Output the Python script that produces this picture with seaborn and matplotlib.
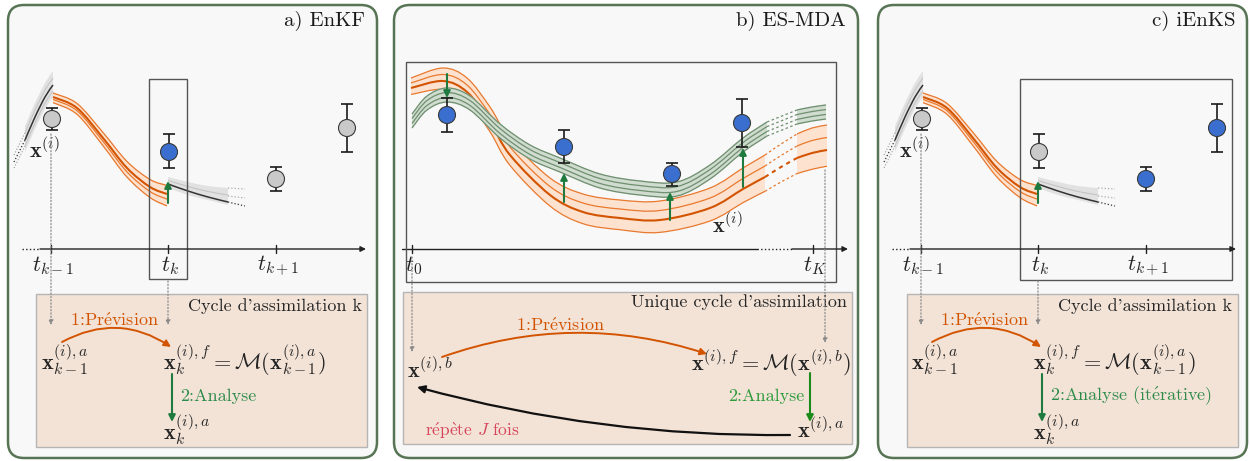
import numpy as np
import pandas as pd
import matplotlib
matplotlib.use("Agg")
import matplotlib.pyplot as plt
import seaborn as sns
from matplotlib.path import Path
from matplotlib.patches import PathPatch, FancyBboxPatch, Rectangle

# ---- data (pixel-like diagram coordinates, y grows downward) ----
# panels a) and c) share the same sketch, c) is shifted to the right
shift_c = 870
ticks_seq = [51, 168, 276]
tick_labels_seq = [r"$t_{k-1}$", r"$t_k$", r"$t_{k+1}$"]
obs_x_seq = [52, 169, 276, 347]
obs_y_seq = [119, 152, 179, 128]
obs_lo_seq = [108, 134, 167, 104]
obs_hi_seq = [130, 168, 191, 152]
state_a = ["autre", "assimilee", "autre", "autre"]
state_c = ["autre", "autre", "assimilee", "assimilee"]

# ensemble before t_{k-1} (grey)
pre_x = [25, 35, 45, 53]
pre_mean = [140, 117, 97, 85]
# forecast t_{k-1} -> t_k (orange)
fc_x = [53, 77, 103, 127, 150, 167]
fc_mean = [97, 108, 138, 168, 187, 194]
fc_spread = [4, 4.5, 5.5, 6.5, 7.5, 8.5]
# ensemble after t_k (grey)
post_x = [168, 188, 208, 228]
post_mean = [184, 191, 197, 202]
post_top = [7, 9, 11, 14]
post_bot = [4, 4, 3, 3]

# panel b) ES-MDA
ticks_b = [412, 813]
tick_labels_b = [r"$t_0$", r"$t_K$"]
obs_x_b = [447, 564, 672, 742]
obs_y_b = [115, 147, 174, 123]
obs_lo_b = [98, 130, 163, 99]
obs_hi_b = [132, 163, 186, 147]
prior_x = [411, 443, 467, 490, 510, 550, 583, 620, 660, 710, 743, 765]
prior_mean = [88, 81, 92, 122, 155, 195, 212, 218, 220, 208, 189, 177]
prior_spread = [10, 13, 14, 15, 16, 17, 18, 18, 19, 20, 21, 22]
prior_gap_x = [765, 781, 797]
prior_gap_mean = [177, 167, 158]
prior_gap_spread = [22, 23, 24]
prior_tail_x = [797, 812, 827]
prior_tail_mean = [158, 153, 150]
prior_tail_spread = [24, 25, 25]
post_b_x = [412, 427, 447, 470, 500, 530, 560, 600, 640, 677, 710, 743, 767]
post_b_mean = [121, 103, 95, 103, 131, 152, 165, 181, 188, 189, 172, 145, 129]
post_b_gap_x = [767, 782, 797]
post_b_gap_mean = [129, 123, 117]
post_b_tail_x = [797, 812, 826]
post_b_tail_mean = [117, 114, 112]
incr_x_b = [447, 564, 670, 743]
incr_from_b = [74, 202, 220, 187]
incr_to_b = [98, 173, 192, 148]

# colours
ORANGE = "#e8792f"
ORANGE_DARK = "#d35400"
ORANGE_FILL = "#fde2cf"
GREEN_LINE = "#6f8f6f"
GREEN_DARK = "#3d5c3d"
GREEN_FILL = "#cfdccf"
GREEN_ARROW = "#1f7a3f"
BOX = "#f3e3d7"
FRAME = "#577555"

sns.set_theme(style="white")
plt.rcParams["font.family"] = ["cmr10", "DejaVu Serif"]
plt.rcParams["mathtext.fontset"] = "cm"
plt.rcParams["axes.unicode_minus"] = False

PREVISION = r"1:Pr$\mathrm{\acute{e}}$vision"
REPETE = r"r$\mathrm{\acute{e}}$p$\mathrm{\grave{e}}$te $J$ fois"
ITERATIVE = r"2:Analyse (it$\mathrm{\acute{e}}$rative)"


def smooth(xs, ys):
    p = np.column_stack([xs, ys]).astype(float)
    n = len(p)
    verts = [p[0]]
    codes = [Path.MOVETO]
    for i in range(n - 1):
        a, b, c, d = p[max(i - 1, 0)], p[i], p[i + 1], p[min(i + 2, n - 1)]
        verts += [b + (c - a) / 6, c - (d - b) / 6, c]
        codes += [Path.CURVE4] * 3
    return np.array(verts), codes


def line(ax, xs, ys, **kw):
    v, c = smooth(xs, ys)
    ax.add_patch(PathPatch(Path(v, c), fill=False, **kw))


def band(ax, xs, top, bot, color, z):
    vt, ct = smooth(xs, top)
    vb, cb = smooth(xs, bot)
    verts = np.vstack([vt, vb[::-1], vt[:1]])
    codes = ct + [Path.LINETO] + [Path.CURVE4] * (len(vb) - 1) + [Path.CLOSEPOLY]
    ax.add_patch(PathPatch(Path(verts, codes), fc=color, ec="none", zorder=z))


def ensemble(ax, xs, mean, spread, fracs, lo, hi, cfill, cline, cmean, z, ls="-"):
    mean = np.asarray(mean, float)
    spread = np.asarray(spread, float)
    if ls == "-":
        band(ax, xs, mean + lo * spread, mean + hi * spread, cfill, z)
    for f in fracs:
        m = f == 0
        line(ax, xs, mean + f * spread, color=cmean if m else cline,
             lw=1.5 if m else 0.9, ls=ls, zorder=z + 0.1 + (0.1 if m else 0))


def arrow(ax, start, end, color, lw=1.4, ls="-", ms=10, rad=0.0, z=6):
    ax.annotate("", xy=end, xytext=start, zorder=z,
                arrowprops=dict(arrowstyle="-|>", color=color, lw=lw, ls=ls,
                                mutation_scale=ms, shrinkA=0, shrinkB=0,
                                connectionstyle=f"arc3,rad={rad}"))


def observations(ax, xs, ys, lo, hi, states):
    ys = np.asarray(ys, float)
    ax.errorbar(xs, ys, yerr=[ys - np.asarray(lo), np.asarray(hi) - ys], fmt="none",
                ecolor="#1a1a1a", elinewidth=1.2, capsize=4, capthick=1.2, zorder=7)
    df = pd.DataFrame({"x": xs, "y": ys, "etat": states})
    sns.scatterplot(data=df, x="x", y="y", hue="etat", ax=ax, s=150, legend=False,
                    palette={"assimilee": "#3a6fcf", "autre": "#c9c9c9"},
                    edgecolor="#3a3a3a", linewidth=0.8, zorder=8)


def panel_frame(ax, x0, x1, title):
    ax.add_patch(FancyBboxPatch((x0, 5), x1 - x0, 453, boxstyle="round,pad=0,rounding_size=16",
                                fc="#f8f8f8", ec=FRAME, lw=1.8, zorder=0))
    ax.text(x1 - 12, 21, title, ha="right", va="center", fontsize=15, color="#1a1a1a")


def time_axis(ax, x_dot, x0, x1, ticks, labels, gap=None):
    ax.plot([x_dot, x0], [249, 249], ls=":", color="#222", lw=1)
    if gap:
        ax.plot([x0, gap[0]], [249, 249], color="#222", lw=1)
        ax.plot(gap, [249, 249], ls=":", color="#222", lw=1)
        arrow(ax, (gap[1], 249), (x1, 249), "#222", lw=1, ms=8)
    else:
        arrow(ax, (x0, 249), (x1, 249), "#222", lw=1, ms=8)
    for t, lab in zip(ticks, labels):
        ax.plot([t, t], [245, 253], color="#222", lw=1)
        ax.text(t + 2, 266, lab, ha="center", va="center", fontsize=16)


fig = plt.figure(figsize=(12.5, 4.61), dpi=100)
ax = fig.add_axes([0, 0, 1, 1])
ax.set_xlim(0, 1250)
ax.set_ylim(461, 0)
ax.axis("off")


def sequential_panel(dx, title, states, rect, analyse_label):
    panel_frame(ax, 8 + dx, 377 + dx, title)
    xs = lambda v: np.asarray(v, float) + dx
    # grey ensemble before t_{k-1}
    pm = np.asarray(pre_mean, float)
    band(ax, xs(pre_x), pm - 14, pm + 12, "#e1e1e1", 2)
    for off in (-7, 6):
        line(ax, xs(pre_x), pm + off, color="#c6c6c6", lw=0.8, zorder=2.1)
        ax.plot(xs([14, 25]), [162 + off, 140 + off], ls=":", color="#9a9a9a", lw=0.8)
    line(ax, xs(pre_x), pm, color="#333", lw=1.1, zorder=2.2)
    ax.plot(xs([14, 25]), [162, 140], ls=":", color="#333", lw=0.9)
    # forecast ensemble
    ensemble(ax, xs(fc_x), fc_mean, fc_spread, [-1, 0, 0.6, 1.4], -1.1, 1.5,
             ORANGE_FILL, ORANGE, ORANGE_DARK, 3)
    # grey ensemble after t_k
    qm = np.asarray(post_mean, float)
    band(ax, xs(post_x), qm - np.asarray(post_top), qm + np.asarray(post_bot), "#e1e1e1", 2)
    line(ax, xs(post_x), qm - np.asarray(post_top) / 2, color="#c4c4c4", lw=0.8, zorder=2.1)
    line(ax, xs(post_x), qm, color="#333", lw=1.1, zorder=2.2)
    for y0, y1, c in [(188, 189, "#aaa"), (196, 198, "#aaa"), (202, 206, "#333")]:
        ax.plot(xs([228, 245]), [y0, y1], ls=":", color=c, lw=0.9)
    # assimilation window
    ax.add_patch(Rectangle((rect[0] + dx, 79), rect[1], rect[2], fill=False, ec="#555", lw=1, zorder=4))
    observations(ax, xs(obs_x_seq), obs_y_seq, obs_lo_seq, obs_hi_seq, states)
    arrow(ax, (168 + dx, 203), (168 + dx, 181), GREEN_ARROW, lw=1.5, ms=10, z=9)
    time_axis(ax, 22 + dx, 40 + dx, 366 + dx, xs(ticks_seq), tick_labels_seq)
    ax.text(44 + dx, 150, r"$\mathbf{x}^{(i)}$", ha="center", va="center", fontsize=16)
    # dotted drops to the cycle box
    arrow(ax, (51 + dx, 134), (51 + dx, 325), "#8a8a8a", lw=0.9, ls=":", ms=7)
    arrow(ax, (168 + dx, 281), (168 + dx, 325), "#8a8a8a", lw=0.9, ls=":", ms=7)
    # cycle box
    bx0 = 36 + dx + (0 if dx == 0 else 1)
    ax.add_patch(Rectangle((bx0, 294), 331, 153, fc=BOX, ec="#b5b5b5", lw=1, zorder=1))
    ax.text(362 + dx, 306, "Cycle d'assimilation k", ha="right", va="center", fontsize=13)
    ax.text(114 + dx, 320, PREVISION, ha="center", va="center", fontsize=13, color=ORANGE_DARK)
    arrow(ax, (62 + dx, 342), (171 + dx, 347), ORANGE_DARK, lw=1.4, rad=-0.3)
    ax.text(41 + dx, 360, r"$\mathbf{x}_{k-1}^{(i),a}$", ha="left", va="center", fontsize=16)
    ax.text(163 + dx, 360, r"$\mathbf{x}_{k}^{(i),f} = \mathcal{M}(\mathbf{x}_{k-1}^{(i),a})$",
            ha="left", va="center", fontsize=16)
    arrow(ax, (172 + dx, 374), (172 + dx, 422), GREEN_ARROW, lw=1.5)
    ax.text(180 + dx, 396, analyse_label, ha="left", va="center", fontsize=13, color="#2e8b4a")
    ax.text(163 + dx, 430, r"$\mathbf{x}_{k}^{(i),a}$", ha="left", va="center", fontsize=16)


sequential_panel(0, "a) EnKF", state_a, (149, 38, 200), "2:Analyse")
sequential_panel(shift_c, "c) iEnKS", state_c, (150, 212, 201), ITERATIVE)

# ---- panel b) ES-MDA ----
panel_frame(ax, 394, 858, "b) ES-MDA")
ax.add_patch(Rectangle((406, 62), 430, 220, fill=False, ec="#555", lw=1, zorder=4))
of = [-1, -0.5, 0, 0.65]
ensemble(ax, prior_x, prior_mean, prior_spread, of, -1, 0.65, ORANGE_FILL, ORANGE, ORANGE_DARK, 3)
ensemble(ax, prior_gap_x, prior_gap_mean, prior_gap_spread, of, -1, 0.65,
         ORANGE_FILL, ORANGE, ORANGE_DARK, 3, ls=(0, (2, 2)))
ensemble(ax, prior_tail_x, prior_tail_mean, prior_tail_spread, of, -1, 0.65,
         ORANGE_FILL, ORANGE, ORANGE_DARK, 3)
gf = [-1, -0.35, 0.35, 1]
ensemble(ax, post_b_x, post_b_mean, [7] * len(post_b_x), gf, -1.1, 1.1,
         GREEN_FILL, GREEN_LINE, GREEN_DARK, 5)
ensemble(ax, post_b_gap_x, post_b_gap_mean, [7] * 3, gf, -1.1, 1.1,
         GREEN_FILL, GREEN_LINE, GREEN_DARK, 5, ls=(0, (2, 2)))
ensemble(ax, post_b_tail_x, post_b_tail_mean, [7] * 3, gf, -1.1, 1.1,
         GREEN_FILL, GREEN_LINE, GREEN_DARK, 5)
observations(ax, obs_x_b, obs_y_b, obs_lo_b, obs_hi_b, ["assimilee"] * 4)
for x, y0, y1 in zip(incr_x_b, incr_from_b, incr_to_b):
    arrow(ax, (x, y0), (x, y1), GREEN_ARROW, lw=1.5, ms=10, z=9)
ax.text(727, 225, r"$\mathbf{x}^{(i)}$", ha="center", va="center", fontsize=16, zorder=9)
time_axis(ax, 402, 402, 848, ticks_b, tick_labels_b, gap=(757, 792))
arrow(ax, (412, 257), (412, 352), "#8a8a8a", lw=0.9, ls=":", ms=7)
arrow(ax, (825, 170), (825, 343), "#8a8a8a", lw=0.9, ls=":", ms=7)

ax.add_patch(Rectangle((403, 292), 449, 152, fc=BOX, ec="#b5b5b5", lw=1, zorder=1))
ax.text(847, 302, "Unique cycle d'assimilation", ha="right", va="center", fontsize=13)
ax.text(560, 325, PREVISION, ha="center", va="center", fontsize=13, color=ORANGE_DARK)
arrow(ax, (442, 357), (707, 354), ORANGE_DARK, lw=1.4, rad=-0.17)
ax.text(407, 370, r"$\mathbf{x}^{(i),b}$", ha="left", va="center", fontsize=16)
ax.text(851, 364, r"$\mathbf{x}^{(i),f} = \mathcal{M}(\mathbf{x}^{(i),b})$",
        ha="right", va="center", fontsize=16)
arrow(ax, (810, 373), (810, 422), "#1a8a1a", lw=1.5)
ax.text(804, 396, "2:Analyse", ha="right", va="center", fontsize=13, color="#2e9a3a")
ax.text(797, 430, r"$\mathbf{x}^{(i),a}$", ha="left", va="center", fontsize=16)
arrow(ax, (790, 435), (417, 387), "#111", lw=1.6, rad=-0.07, ms=11)
ax.text(425, 431, REPETE, ha="left", va="center", fontsize=12.5, color="#d6455a")

fig.savefig("out.png", dpi=100, facecolor="white")
